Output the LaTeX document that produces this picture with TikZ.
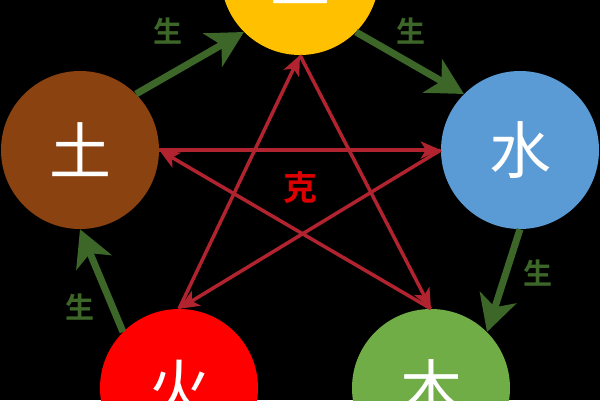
\documentclass[tikz,border=0pt]{standalone}
\usepackage{fontspec}
\newfontfamily\cjk{Noto Sans CJK SC}
\newfontfamily\cjkb{Noto Sans CJK SC Bold}
\usetikzlibrary{arrows.meta}
\definecolor{cgold}{HTML}{FFC000}
\definecolor{cbrown}{HTML}{8A4210}
\definecolor{cblue}{HTML}{5B9BD5}
\definecolor{cred}{HTML}{FF0000}
\definecolor{cgreen}{HTML}{70AD47}
\definecolor{shenggreen}{HTML}{3D6629}
\definecolor{kered}{HTML}{B0232F}
\definecolor{kelabel}{HTML}{DD0000}
\tikzset{
  elem/.style={circle, minimum size=158pt, inner sep=0pt, text=white, font=\cjk\fontsize{62}{62}\selectfont},
  sheng/.style={draw=shenggreen, line width=7pt, -{Stealth[length=36pt, width=38pt, inset=10pt]}},
  ke/.style={draw=kered, line width=3.5pt, -{Stealth[length=20pt, width=17pt, inset=5pt]}},
  shenglabel/.style={text=shenggreen, font=\cjkb\fontsize{29}{29}\selectfont},
  kelbl/.style={text=kelabel, font=\cjkb\fontsize{34}{34}\selectfont}
}
\begin{document}
\begin{tikzpicture}[x=1pt,y=1pt]
\useasboundingbox (0,0) rectangle (600,400);
\fill[black] (0,0) rectangle (600,400);
\begin{scope}
\clip (0,0) rectangle (600,400);
\node[elem, fill=cgold] (jin) at (300,424) {金};
\node[elem, fill=cbrown] (tu) at (80,250) {土};
\node[elem, fill=cblue] (shui) at (520,250) {水};
\node[elem, fill=cred] (huo) at (179,12) {火};
\node[elem, fill=cgreen] (mu) at (431,12) {木};
\end{scope}
% sheng cycle
\draw[sheng] (tu.45) -- (jin.225);
\draw[sheng] (jin.315) -- (shui.135);
\draw[sheng] (shui.270) -- (mu.45);
\draw[sheng] (huo.135) -- (tu.270);
\node[shenglabel] (s1) at (168,369) {生};
\node[shenglabel] (s2) at (411,369) {生};
\node[shenglabel] (s3) at (538,127) {生};
\node[shenglabel] (s4) at (80,93) {生};
% ke cycle
\draw[ke] (tu.0) -- (shui.180);
\draw[ke] (shui.180) -- (huo.90);
\draw[ke] (huo.90) -- (jin.270);
\draw[ke] (jin.270) -- (mu.90);
\draw[ke] (mu.90) -- (tu.0);
\node[kelbl] (ke) at (300,212) {克};
\end{tikzpicture}
\end{document}
